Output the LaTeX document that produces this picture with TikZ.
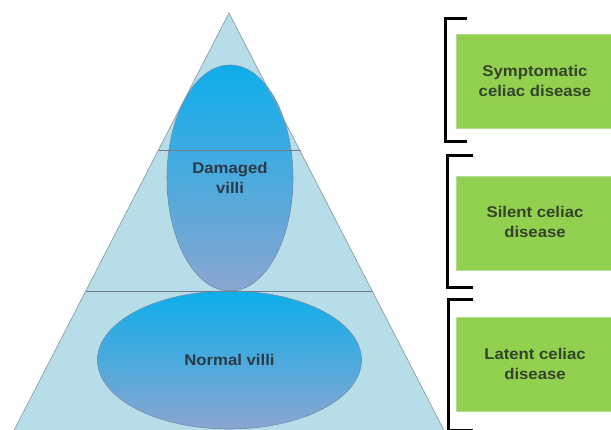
\documentclass[tikz,border=0pt]{standalone}
\usepackage{fontspec}
\setmainfont{Liberation Sans}[FakeStretch=1.08]
\usetikzlibrary{shapes.geometric}
\definecolor{tri}{HTML}{B7DDE8}
\definecolor{triline}{HTML}{8C9EA8}
\definecolor{sepline}{HTML}{6E7E88}
\definecolor{elltop}{HTML}{0DAEEB}
\definecolor{ellbot}{HTML}{8AA6D0}
\definecolor{ellline}{HTML}{6F8DAE}
\definecolor{boxgreen}{HTML}{92D050}
\definecolor{boxline}{HTML}{B5DC95}
\definecolor{elltext}{HTML}{2A3946}
\definecolor{boxtext}{HTML}{33442A}
\tikzset{
  villi/.style={ellipse, draw=ellline, line width=0.6pt, top color=elltop, bottom color=ellbot,
    inner sep=0pt, font=\bfseries\fontsize{15.5}{20}\selectfont, text=elltext, align=center},
  stage/.style={rectangle, draw=boxline, line width=0.8pt, fill=boxgreen, minimum width=166pt,
    minimum height=94pt, inner sep=0pt, text=boxtext},
  stagetext/.style={font=\bfseries\fontsize{15.5}{19.5}\selectfont, text=boxtext, align=center, inner sep=0pt},
  brk/.style={draw=black, line width=3pt}
}
\begin{document}
\begin{tikzpicture}[x=1pt,y=-1pt]
\useasboundingbox (0,0) rectangle (611,430);
\begin{scope}
\clip (0,0) rectangle (611,430);
% pyramid
\coordinate (apex) at (229,13);
\coordinate (bl) at (8,442);
\coordinate (br) at (450,442);
\fill[tri] (apex) -- (bl) -- (br) -- cycle;
% villi
\node[villi, minimum width=126pt, minimum height=226pt] (damaged) at (230,178) {Damaged\\villi};
\node[villi, minimum width=264pt, minimum height=138pt] (normal) at (229.5,360) {Normal villi};
% pyramid outline and levels
\draw[triline, line width=0.7pt] (bl) -- (apex) -- (br);
\coordinate (l1a) at (158.3,150);
\coordinate (l1b) at (300.7,150);
\coordinate (l2a) at (86,291);
\coordinate (l2b) at (373,291);
\draw[sepline, line width=0.8pt] (l1a) -- (l1b);
\draw[sepline, line width=0.8pt] (l2a) -- (l2b);
% stage boxes
\node[stage] (symp) at (539,81) {};
\node[stage] (silent) at (539,223) {};
\node[stage] (latent) at (539,364.7) {};
\node[stagetext] (sympt) at (535,81) {Symptomatic\\celiac disease};
\node[stagetext] (silentt) at (535,222) {Silent celiac\\disease};
\node[stagetext] (latentt) at (535,364) {Latent celiac\\disease};
% brackets
\draw[brk] (467,18.5) -- (445,18.5) -- (445,141.5) -- (467,141.5);
\draw[brk] (473,155.5) -- (447,155.5) -- (447,288) -- (473,288);
\draw[brk] (473,299.5) -- (448,299.5) -- (448,431) -- (473,431);
\end{scope}
\end{tikzpicture}
\end{document}
